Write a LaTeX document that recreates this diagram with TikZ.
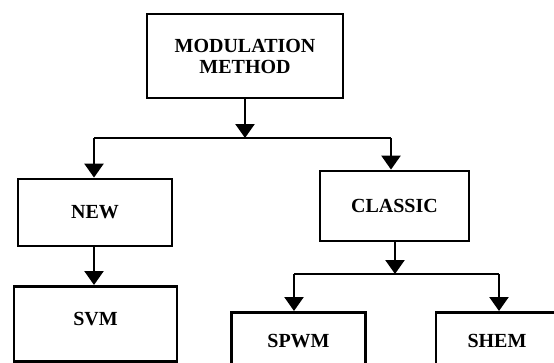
\documentclass[tikz,border=0pt]{standalone}
\usepackage{fontspec}
\setmainfont{Liberation Serif}
\usetikzlibrary{arrows.meta}
\begin{document}
\begin{tikzpicture}[x=1pt,y=-1pt,
  box/.style={draw, line width=2.8pt, inner sep=0pt, font=\bfseries\fontsize{20}{21}\selectfont, align=center},
  conn/.style={line width=2.4pt},
  arr/.style={conn, -{Triangle[width=19pt,length=14pt]}},
  bus/.style={line width=1.8pt}]
\useasboundingbox (0,0) rectangle (554,362);
\clip (0,0) rectangle (554,362);
% boxes
\node[box, minimum width=196pt, minimum height=84pt] (mm) at (245,56) {MODULATION\\METHOD};
\node[box, minimum width=154pt, minimum height=67pt] (new) at (95,212.5) {NEW};
\node[box, minimum width=149pt, minimum height=70pt] (classic) at (394.5,206) {CLASSIC};
\node[box, anchor=north, minimum width=163pt, inner ysep=0pt, text height=39.5pt, text depth=35.5pt] (svm) at (95.5,285) {SVM};
\node[box, anchor=north, minimum width=134pt, inner ysep=0pt, text height=35.5pt, text depth=60pt] (spwm) at (298.5,311) {SPWM};
\node[box, anchor=north, minimum width=122pt, inner ysep=0pt, text height=35.5pt, text depth=60pt] (shem) at (497,311) {SHEM};
% junctions
\coordinate (j1) at (245,138);
\coordinate (j1L) at (94,138);
\coordinate (j1R) at (391,138);
\coordinate (j2) at (395,274);
\coordinate (j2L) at (294,274);
\coordinate (j2R) at (499,274);
% connectors
\draw[arr] (mm.south) -- (j1);
\draw[bus] (j1L) -- (j1R);
\draw[arr] (j1L) -- (j1L |- new.north);
\draw[arr] (j1R) -- (j1R |- classic.north);
\draw[arr] (new.south -| j1L) -- (j1L |- svm.north);
\draw[arr] (classic.south -| j2) -- (j2);
\draw[bus] (j2L) -- (j2R);
\draw[arr] (j2L) -- (j2L |- spwm.north);
\draw[arr] (j2R) -- (j2R |- shem.north);
\end{tikzpicture}
\end{document}
